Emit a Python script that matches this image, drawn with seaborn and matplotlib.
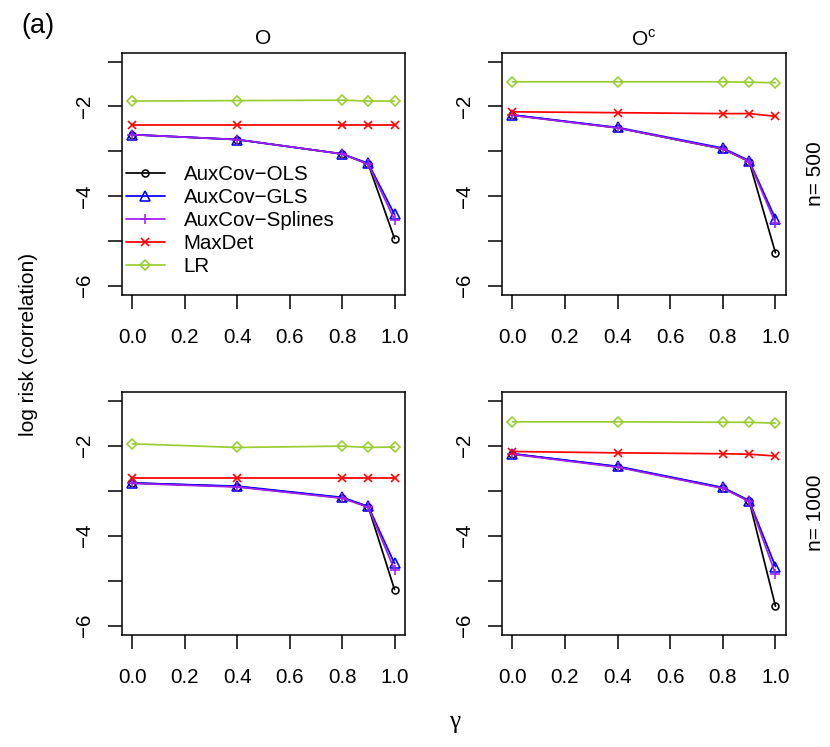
import pandas as pd
import seaborn as sns
import matplotlib.pyplot as plt

# gamma values on the x axis
gamma = [0.0, 0.4, 0.8, 0.9, 1.0]

methods = ['AuxCov\u2212OLS', 'AuxCov\u2212GLS', 'AuxCov\u2212Splines', 'MaxDet', 'LR']
colors = ['black', 'blue', '#A020F0', 'red', '#9ACD32']
markers = ['o', '^', '+', 'x', 'D']
msizes = [5.0, 7.0, 7.8, 5.8, 4.9]

# log risk values (one list per method)
# panel O, n = 500
ols_O_500 = [-2.63, -2.74, -3.06, -3.29, -4.95]
gls_O_500 = [-2.63, -2.74, -3.06, -3.27, -4.41]
spl_O_500 = [-2.63, -2.74, -3.06, -3.29, -4.53]
maxdet_O_500 = [-2.42, -2.42, -2.42, -2.42, -2.42]
lr_O_500 = [-1.88, -1.87, -1.86, -1.88, -1.88]

# panel O^c, n = 500
ols_Oc_500 = [-2.19, -2.48, -2.95, -3.23, -5.27]
gls_Oc_500 = [-2.19, -2.47, -2.93, -3.21, -4.51]
spl_Oc_500 = [-2.20, -2.48, -2.95, -3.23, -4.61]
maxdet_Oc_500 = [-2.12, -2.14, -2.16, -2.16, -2.22]
lr_Oc_500 = [-1.45, -1.45, -1.45, -1.46, -1.47]

# panel O, n = 1000
ols_O_1000 = [-2.83, -2.91, -3.16, -3.36, -5.20]
gls_O_1000 = [-2.83, -2.90, -3.15, -3.35, -4.62]
spl_O_1000 = [-2.84, -2.92, -3.17, -3.37, -4.76]
maxdet_O_1000 = [-2.72, -2.72, -2.72, -2.72, -2.72]
lr_O_1000 = [-1.96, -2.04, -2.01, -2.04, -2.03]

# panel O^c, n = 1000
ols_Oc_1000 = [-2.18, -2.47, -2.94, -3.23, -5.57]
gls_Oc_1000 = [-2.18, -2.46, -2.93, -3.22, -4.69]
spl_Oc_1000 = [-2.19, -2.48, -2.95, -3.24, -4.85]
maxdet_Oc_1000 = [-2.13, -2.16, -2.18, -2.19, -2.23]
lr_Oc_1000 = [-1.47, -1.47, -1.48, -1.48, -1.50]

panels = [
    (0, 0, [ols_O_500, gls_O_500, spl_O_500, maxdet_O_500, lr_O_500]),
    (0, 1, [ols_Oc_500, gls_Oc_500, spl_Oc_500, maxdet_Oc_500, lr_Oc_500]),
    (1, 0, [ols_O_1000, gls_O_1000, spl_O_1000, maxdet_O_1000, lr_O_1000]),
    (1, 1, [ols_Oc_1000, gls_Oc_1000, spl_Oc_1000, maxdet_Oc_1000, lr_Oc_1000]),
]

y_ticks = [-6, -5, -4, -3, -2, -1]
y_ticklabels = ['\u22126', '', '\u22124', '', '\u22122', '']
x_ticks = [0.0, 0.2, 0.4, 0.6, 0.8, 1.0]
x_ticklabels = ['0.0', '0.2', '0.4', '0.6', '0.8', '1.0']
col_titles = ['O', 'O$^{\\mathregular{c}}$']
row_titles = ['n= 500', 'n= 1000']

sns.set_theme(style='white')
plt.rcParams['font.family'] = ['Liberation Sans', 'DejaVu Sans']
plt.rcParams['font.size'] = 14.8
plt.rcParams['text.color'] = 'black'
plt.rcParams['xtick.color'] = 'black'
plt.rcParams['ytick.color'] = 'black'
plt.rcParams['axes.labelcolor'] = 'black'

W, H = 830, 747
fig = plt.figure(figsize=(W / 100, H / 100), dpi=100)

# pixel boxes of the panels: x0, y0, x1, y1
col_x = [(121.7, 405.0), (501.7, 786.0)]
row_y = [(52.7, 294.5), (391.7, 634.5)]

axes = {}
for r, c, series in panels:
    x0, x1 = col_x[c]
    y0, y1 = row_y[r]
    ax = fig.add_axes([x0 / W, 1 - y1 / H, (x1 - x0) / W, (y1 - y0) / H])
    axes[(r, c)] = ax
    for name, vals, col, mk, ms in zip(methods, series, colors, markers, msizes):
        df = pd.DataFrame({'gamma': gamma, 'risk': vals})
        sns.lineplot(data=df, x='gamma', y='risk', ax=ax, color=col, marker=mk,
                     markersize=ms, markerfacecolor='none', markeredgecolor=col,
                     markeredgewidth=1.15, lw=1.25, label=name, legend=False,
                     estimator=None)
    ax.set_xlim(-0.04, 1.04)
    ax.set_ylim(-6.2, -0.8)
    ax.set_xticks(x_ticks)
    ax.set_xticklabels(x_ticklabels)
    ax.set_yticks(y_ticks)
    ax.set_yticklabels(y_ticklabels, rotation=90, va='center')
    ax.set_xlabel('')
    ax.set_ylabel('')
    for sp in ax.spines.values():
        sp.set_visible(True)
        sp.set_color('black')
        sp.set_linewidth(1.1)
    ax.tick_params(axis='both', which='major', direction='out', length=10.3,
                   width=1.1, color='black', labelcolor='black', labelsize=14.8,
                   bottom=True, left=True, top=False, right=False)
    ax.tick_params(axis='x', pad=13.8)
    ax.tick_params(axis='y', pad=10)
    ax.grid(False)

# legend inside the top-left panel
ax0 = axes[(0, 0)]
ax0.legend(loc='center left', bbox_to_anchor=(0.015, 0.305), frameon=False,
           borderaxespad=0, borderpad=0, handlelength=1.9, handletextpad=0.9,
           labelspacing=0.2, fontsize=14.8)

fig.text(38 / W, 1 - 26 / H, '(a)', fontsize=19.5, ha='center', va='center')
for c in range(2):
    xc = (col_x[c][0] + col_x[c][1]) / 2
    fig.text(xc / W, 1 - 39 / H, col_titles[c], fontsize=15, ha='center', va='center')
for r in range(2):
    yc = (row_y[r][0] + row_y[r][1]) / 2
    fig.text(815 / W, 1 - yc / H, row_titles[r], fontsize=15, rotation=90,
             ha='center', va='center')
fig.text(29 / W, 1 - 344 / H, 'log risk (correlation)', fontsize=15,
         rotation=90, ha='center', va='center')
fig.text(455 / W, 1 - 722 / H, '\u03b3', fontsize=18, ha='center', va='center',
         family=['Liberation Serif', 'DejaVu Serif'])

fig.savefig('out.png', dpi=100)
